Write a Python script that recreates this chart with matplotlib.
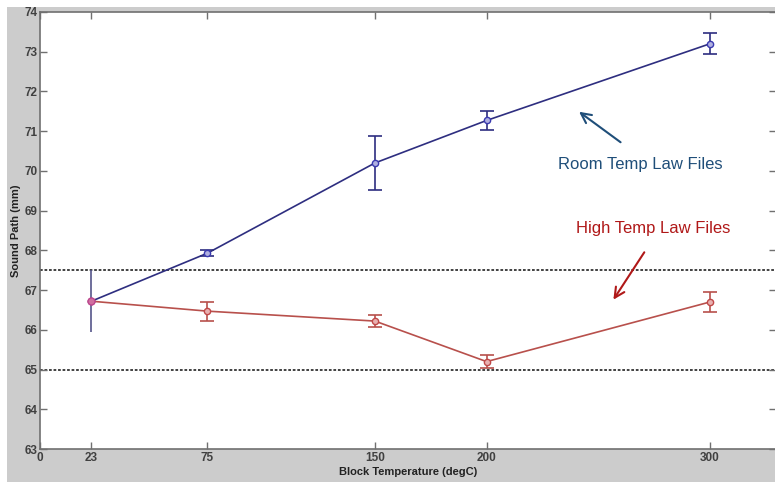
"""
Sound path vs block temperature for room/high temp law files.
"""

import matplotlib.pyplot as plt
from matplotlib.patches import Rectangle

temps = [23, 75, 150, 200, 300]

room_path = [66.72, 67.93, 70.20, 71.27, 73.20]
room_err = [0.78, 0.08, 0.69, 0.25, 0.26]

high_path = [66.72, 66.47, 66.22, 65.20, 66.70]
high_err = [0.0, 0.24, 0.15, 0.17, 0.26]

limit_lines = [67.5, 65.0]
xtick_vals = [0, 23, 75, 150, 200, 300]


def main():
    fig = plt.figure(figsize=(7.75, 4.84), dpi=100, facecolor="white")
    # grey matlab-ish background
    fig.patches.append(Rectangle((7 / 775, 2 / 484), 1, 1 - 9 / 484,
                                 transform=fig.transFigure, facecolor="#cccccc",
                                 edgecolor="none", zorder=-10))
    ax = fig.add_axes([40 / 775, 1 - 449 / 484, 736 / 775, 437 / 484])
    ax.set_facecolor("white")

    room_col = "#2e2e80"
    high_col = "#b8504c"

    for y in limit_lines:
        ax.axhline(y, color="#333333", lw=1.3, ls=(0, (1.5, 1)), zorder=1)

    ax.plot(temps, room_path, color=room_col, lw=1.2, zorder=3)
    ax.errorbar(temps[:1], room_path[:1], yerr=room_err[:1], fmt="none",
                ecolor="#55558a", elinewidth=1.2, capsize=0, zorder=2)
    ax.errorbar(temps[1:], room_path[1:], yerr=room_err[1:], fmt="none",
                ecolor=room_col, elinewidth=1.2, capsize=5, capthick=1.2, zorder=3)
    ax.plot(temps, room_path, ls="none", marker="o", ms=4.5, mfc="#b0b0e0",
            mec="#3a3ab0", mew=1.0, zorder=4)

    ax.plot(temps, high_path, color=high_col, lw=1.2, zorder=3)
    ax.errorbar(temps[1:], high_path[1:], yerr=high_err[1:], fmt="none",
                ecolor=high_col, elinewidth=1.2, capsize=5, capthick=1.2, zorder=3)
    ax.plot(temps, high_path, ls="none", marker="o", ms=4.5, mfc="#e8b0b0",
            mec="#c04848", mew=1.0, zorder=4)
    ax.plot(temps[:1], high_path[:1], ls="none", marker="o", ms=5, mfc="#d070a0",
            mec="#c04890", zorder=5)

    ax.annotate("", xy=(240.4, 71.53), xytext=(261.0, 70.68),
                arrowprops=dict(arrowstyle="->", color="#1f4e79", lw=1.5,
                                mutation_scale=18))
    ax.text(268.7, 70.15, "Room Temp Law Files", color="#1f4e79", fontsize=12,
            ha="center", va="center", family="Liberation Sans")
    ax.annotate("", xy=(256.1, 66.70), xytext=(271.3, 68.01),
                arrowprops=dict(arrowstyle="->", color="#b01818", lw=1.5,
                                mutation_scale=18))
    ax.text(274.5, 68.54, "High Temp Law Files", color="#b01818", fontsize=12,
            ha="center", va="center", family="Liberation Sans")

    ax.set_xlim(0, 329.6)
    ax.set_ylim(63, 74)
    ax.set_xticks(xtick_vals)
    ax.set_yticks(range(63, 75))
    ax.tick_params(direction="in", length=5, width=1, color="#707070",
                   labelsize=8.5, labelcolor="#404040", top=True, right=True, pad=2)
    for lab in ax.get_xticklabels() + ax.get_yticklabels():
        lab.set_family("Liberation Sans")
        lab.set_fontweight("bold")
    for s in ax.spines.values():
        s.set_color("#707070")
        s.set_linewidth(1.2)

    ax.set_xlabel("Block Temperature (degC)", fontsize=8, fontweight="bold",
                  color="#222222", family="Liberation Sans", labelpad=2)
    ax.set_ylabel("Sound Path (mm)", fontsize=8, fontweight="bold",
                  color="#222222", family="Liberation Sans", labelpad=2)

    fig.savefig("out.png", dpi=100)


if __name__ == "__main__":
    main()
